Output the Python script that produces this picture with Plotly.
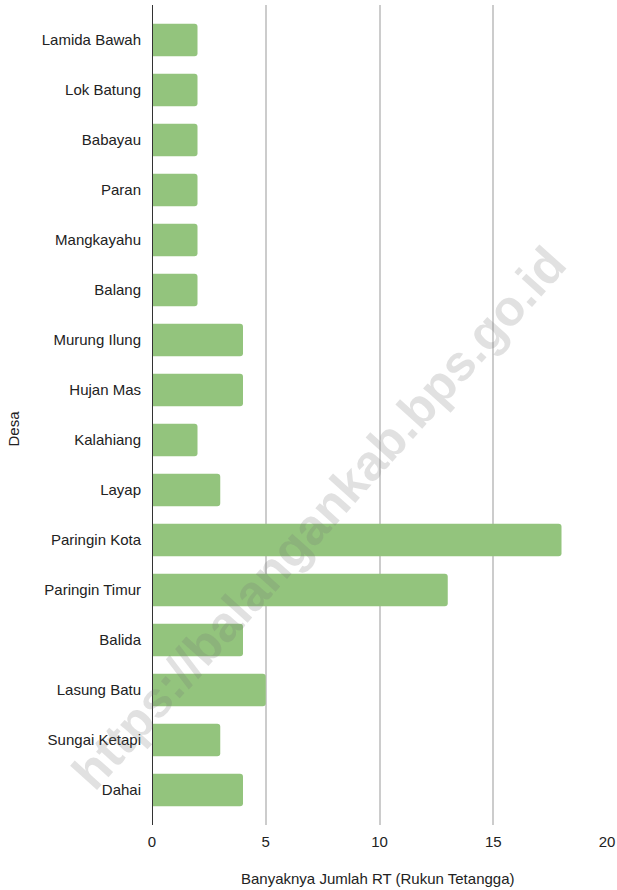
import plotly.graph_objects as go

desa = ["Lamida Bawah", "Lok Batung", "Babayau", "Paran", "Mangkayahu", "Balang",
        "Murung Ilung", "Hujan Mas", "Kalahiang", "Layap", "Paringin Kota",
        "Paringin Timur", "Balida", "Lasung Batu", "Sungai Ketapi", "Dahai"]
jumlah_rt = [2, 2, 2, 2, 2, 2, 4, 4, 2, 3, 18, 13, 4, 5, 3, 4]
x_ticks = [0, 5, 10, 15, 20]

W, H = 617, 890
L, R, T, B = 152, 10, 5, 65
PW, PH = W - L - R, H - T - B


def px(xp):
    return (xp - L) / PW


def py(yp):
    return (T + PH - yp) / PH


fig = go.Figure()
fig.add_trace(go.Bar(
    y=desa, x=jumlah_rt, orientation="h",
    marker=dict(color="#93c47d", cornerradius=3, line=dict(width=0)),
    width=0.65,
))

font = "Liberation Sans, Arial, sans-serif"
fig.update_layout(
    width=W, height=H,
    margin=dict(l=L, r=R, t=T, b=B, autoexpand=False),
    plot_bgcolor="white", paper_bgcolor="white",
    showlegend=False,
    font=dict(family=font, size=15, color="#222222"),
    xaxis=dict(range=[0, 20], tickvals=x_ticks, showgrid=True, gridcolor="#cccccc",
               gridwidth=2, zeroline=False, showline=False, ticks="outside",
               ticklen=3, tickcolor="rgba(0,0,0,0)", automargin=False,
               tickfont=dict(size=15, color="#222222")),
    yaxis=dict(categoryorder="array", categoryarray=desa, autorange=False,
               range=[15.7, -0.7], showgrid=False, zeroline=False, showline=False,
               ticks="outside", ticklen=7, tickcolor="rgba(0,0,0,0)", automargin=False,
               tickfont=dict(size=15, color="#222222")),
    shapes=[dict(type="line", xref="x", yref="paper", x0=0, x1=0, y0=0, y1=1,
                 line=dict(color="#333333", width=2))],
    annotations=[
        dict(text="Desa", xref="paper", yref="paper", x=px(12.5), xanchor="center",
             y=py(429), yanchor="middle", showarrow=False, textangle=-90,
             font=dict(size=15, color="#222222")),
        dict(text="Banyaknya Jumlah RT (Rukun Tetangga)", xref="paper", yref="paper",
             x=px(378), xanchor="center", y=py(878), yanchor="middle",
             showarrow=False, font=dict(size=15, color="#222222")),
        dict(text="<b>https://balangankab.bps.go.id</b>", xref="paper", yref="paper",
             x=px(319), y=py(518), xanchor="center", yanchor="middle",
             showarrow=False, textangle=-48,
             font=dict(size=50, color="rgba(120,120,120,0.22)", family=font)),
    ],
)

fig.write_html("out.html", config={"displayModeBar": False},
               post_script="document.body.style.margin='0px';document.body.style.overflow='hidden';")
